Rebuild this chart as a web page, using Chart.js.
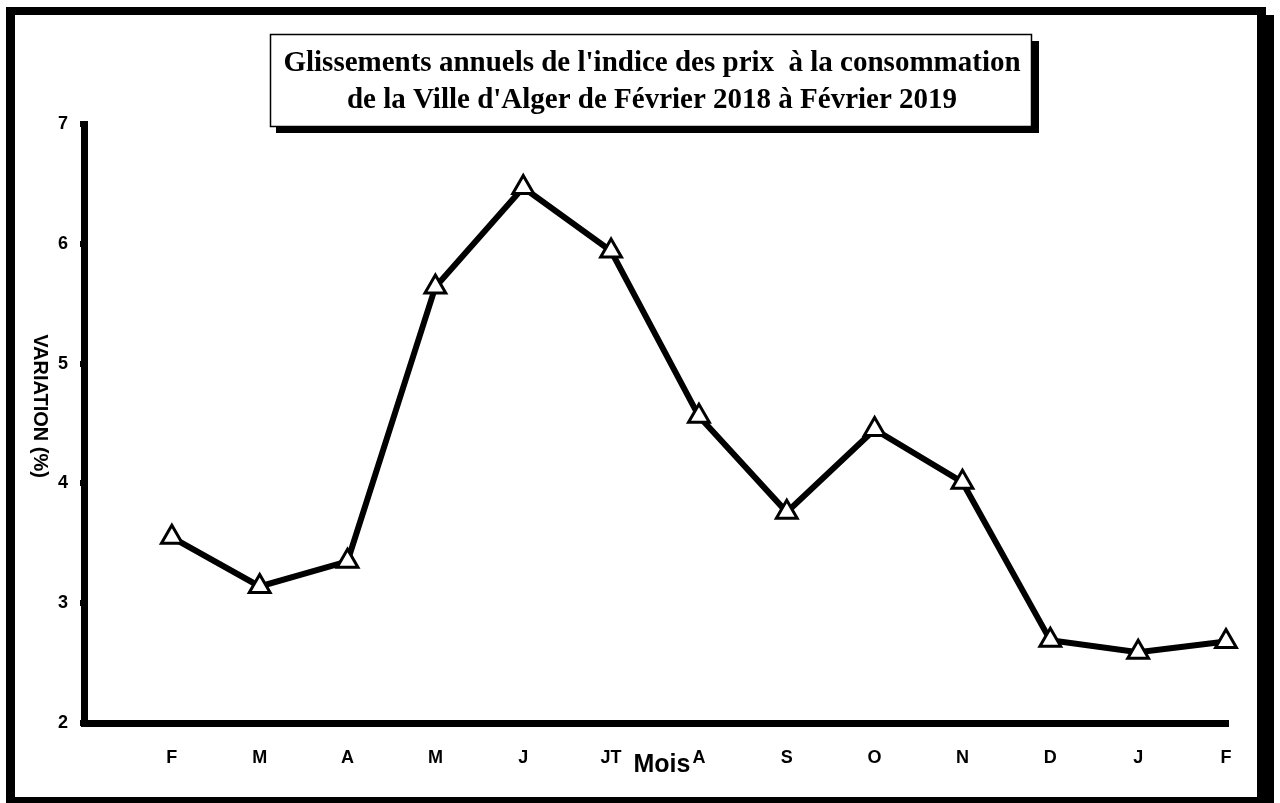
<!DOCTYPE html>
<html>
<head>
<meta charset="utf-8">
<script src="https://cdn.jsdelivr.net/npm/chart.js@4/dist/chart.umd.min.js"></script>
<style>
  html, body { margin: 0; padding: 0; background: #fff; }
  #wrap { width: 1280px; height: 803px; }
</style>
</head>
<body>
<div id="wrap"><canvas id="chart" width="1280" height="803"></canvas></div>
<script>
// mois (position 0 = coin de l'axe, pas de mois)
const months = ['', 'F', 'M', 'A', 'M', 'J', 'JT', 'A', 'S', 'O', 'N', 'D', 'J', 'F'];
const variation = [3.55, 3.14, 3.35, 5.64, 6.47, 5.94, 4.56, 3.76, 4.45, 4.01, 2.69, 2.59, 2.68];
const yTicks = [2, 3, 4, 5, 6, 7];
const titleLines = [
  "Glissements annuels de l'indice des prix  à la consommation",
  "de la Ville d'Alger de Février 2018 à Février 2019"
];
const yTitle = 'VARIATION (%)';
const xTitle = 'Mois';

const points = variation.map((v, i) => ({ x: i + 1, y: v }));

// cadre, boite du titre, titres des axes
const decor = {
  id: 'decor',
  beforeDraw(chart) {
    const c = chart.ctx;
    c.save();
    c.fillStyle = '#fff';
    c.fillRect(0, 0, 1280, 803);
    c.fillStyle = '#000';
    c.fillRect(6, 7, 1260, 796);
    c.fillRect(1257, 15, 17, 788);
    c.fillStyle = '#fff';
    c.fillRect(15, 15, 1242, 782);

    // boite du titre avec ombre
    c.fillStyle = '#000';
    c.fillRect(276, 41, 763, 92);
    c.fillStyle = '#fff';
    c.fillRect(270, 34, 762, 93);
    c.strokeStyle = '#000';
    c.lineWidth = 1.5;
    c.strokeRect(270.5, 34.5, 761, 92);

    c.fillStyle = '#000';
    c.font = 'bold 29px "Liberation Serif", "Times New Roman", serif';
    c.textAlign = 'center';
    c.textBaseline = 'middle';
    c.fillText(titleLines[0], 652, 64);
    c.fillText(titleLines[1], 652, 101);

    c.font = 'bold 25px "Liberation Sans", Arial, sans-serif';
    c.fillText(xTitle, 662, 765);

    c.translate(40, 406);
    c.rotate(Math.PI / 2);
    c.font = 'bold 20px "Liberation Sans", Arial, sans-serif';
    c.fillText(yTitle, 0, 0);
    c.restore();
  }
};

new Chart(document.getElementById('chart'), {
  type: 'line',
  data: {
    datasets: [{
      data: points,
      borderColor: '#000',
      borderWidth: 6,
      tension: 0,
      clip: false,
      pointStyle: 'triangle',
      pointRadius: 12,
      pointBackgroundColor: '#fff',
      pointBorderColor: '#000',
      pointBorderWidth: 3
    }]
  },
  options: {
    responsive: false,
    animation: false,
    events: [],
    layout: { padding: { left: 0, right: 54, top: 124, bottom: 20 } },
    plugins: {
      legend: { display: false },
      title: { display: false },
      tooltip: { enabled: false }
    },
    scales: {
      x: {
        type: 'linear',
        min: 0,
        max: 13,
        afterFit: s => { s.height = 60; },
        afterBuildTicks: s => { s.ticks = months.map((m, i) => ({ value: i })); },
        border: { color: '#000', width: 7 },
        grid: { drawOnChartArea: false, drawTicks: true, tickLength: 4, lineWidth: 6, color: '#000' },
        ticks: {
          autoSkip: false,
          maxRotation: 0,
          padding: 20,
          color: '#000',
          font: { family: '"Liberation Sans", Arial, sans-serif', size: 18, weight: 'bold' },
          callback: v => months[v]
        }
      },
      y: {
        min: 2,
        max: 7,
        afterFit: s => { s.width = 84; },
        afterBuildTicks: s => { s.ticks = yTicks.map(v => ({ value: v })); },
        border: { color: '#000', width: 7 },
        grid: { drawOnChartArea: false, drawTicks: true, tickLength: 4, lineWidth: 6, color: '#000' },
        ticks: {
          padding: 12,
          color: '#000',
          font: { family: '"Liberation Sans", Arial, sans-serif', size: 18, weight: 'bold' }
        }
      }
    }
  },
  plugins: [decor]
});
</script>
</body>
</html>
